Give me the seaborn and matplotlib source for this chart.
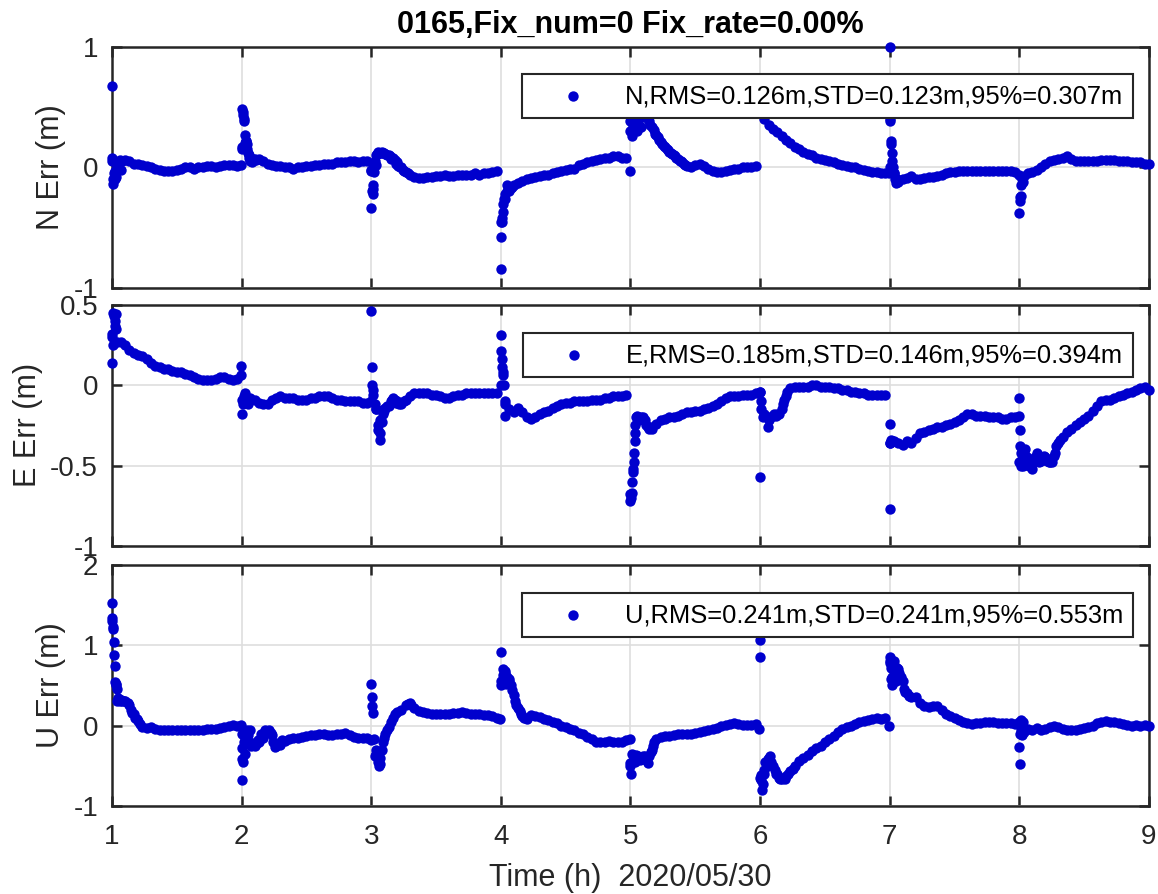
import numpy as np
import pandas as pd
import matplotlib
matplotlib.use("Agg")
import matplotlib.pyplot as plt
from matplotlib.ticker import FuncFormatter
import seaborn as sns

# ---- 30 epochs per hour (2-minute sampling), hours 1..9 ----
EPOCHS_PER_HOUR = 30
epoch_t = 1 + np.arange(8 * EPOCHS_PER_HOUR) / EPOCHS_PER_HOUR

# North error (m), two rows per hour
n_err = [
    0.05, -0.08, -0.02, 0.06, 0.05, 0.03, 0.03, 0.02, 0.01, 0.00, -0.01, -0.02, -0.03, -0.03, -0.03,
    -0.02, -0.01, 0.00, 0.00, -0.01, 0.00, 0.00, 0.01, 0.01, 0.00, 0.01, 0.02, 0.02, 0.02, 0.01,
    0.15, 0.22, 0.08, 0.07, 0.07, 0.05, 0.03, 0.02, 0.01, 0.01, 0.00, 0.00, -0.01, 0.00, 0.00,
    0.01, 0.01, 0.02, 0.02, 0.03, 0.03, 0.03, 0.04, 0.04, 0.04, 0.05, 0.05, 0.04, 0.05, 0.05,
    -0.02, 0.02, 0.12, 0.12, 0.10, 0.08, 0.04, 0.00, -0.04, -0.06, -0.08, -0.09, -0.09, -0.08, -0.08,
    -0.07, -0.07, -0.06, -0.07, -0.07, -0.06, -0.06, -0.06, -0.06, -0.05, -0.06, -0.05, -0.05, -0.04, -0.03,
    -0.45, -0.26, -0.20, -0.15, -0.13, -0.11, -0.10, -0.09, -0.08, -0.07, -0.06, -0.06, -0.05, -0.04, -0.03,
    -0.02, -0.01, -0.01, 0.02, 0.03, 0.04, 0.05, 0.06, 0.07, 0.08, 0.08, 0.09, 0.09, 0.08, 0.08,
    0.30, 0.36, 0.40, 0.44, 0.40, 0.33, 0.27, 0.21, 0.17, 0.13, 0.10, 0.07, 0.04, 0.01, 0.00,
    0.02, 0.03, 0.01, -0.01, -0.03, -0.04, -0.04, -0.03, -0.02, -0.01, -0.01, 0.00, 0.00, 0.00, 0.01,
    0.45, 0.40, 0.35, 0.32, 0.29, 0.26, 0.23, 0.20, 0.17, 0.15, 0.13, 0.11, 0.10, 0.08, 0.07,
    0.06, 0.05, 0.04, 0.03, 0.02, 0.01, 0.00, 0.00, -0.01, -0.02, -0.03, -0.04, -0.04, -0.05, -0.05,
    0.00, -0.05, -0.12, -0.10, -0.09, -0.07, -0.10, -0.10, -0.09, -0.08, -0.08, -0.07, -0.06, -0.05, -0.04,
    -0.04, -0.03, -0.03, -0.03, -0.03, -0.03, -0.03, -0.03, -0.03, -0.03, -0.03, -0.03, -0.03, -0.03, -0.04,
    -0.06, -0.07, -0.05, -0.04, -0.02, 0.00, 0.03, 0.05, 0.06, 0.07, 0.08, 0.09, 0.07, 0.05, 0.05,
    0.05, 0.05, 0.05, 0.05, 0.06, 0.06, 0.06, 0.06, 0.05, 0.05, 0.05, 0.04, 0.04, 0.04, 0.03,
]
# Extra epochs after each re-initialisation and along fast-changing stretches
n_jump_t = [
    1.000, 1.003, 1.007, 1.010, 1.015, 1.020, 1.025, 1.040, 1.050, 1.060, 1.080,
    1.995, 2.000, 2.003, 2.008, 2.012, 2.018, 2.022, 2.025, 2.030, 2.035, 2.040, 2.045, 2.050, 2.055, 2.060, 2.065, 2.080,
    2.090, 2.110,
    2.997, 3.000, 3.005, 3.010, 3.013, 3.017, 3.020, 3.025, 3.030, 3.040,
    3.045, 3.055, 3.075, 3.085, 3.110, 3.120, 3.145, 3.155, 3.180, 3.190, 3.210, 3.220, 3.245, 3.255, 3.280,
    4.000, 4.003, 4.006, 4.010, 4.015, 4.020, 4.025, 4.030, 4.045, 4.050, 4.060, 4.075, 4.085,
    4.998, 5.000, 5.005, 5.010, 5.020, 5.050, 5.080,
    5.140, 5.150, 5.180, 5.190, 5.210, 5.220, 5.245, 5.255, 5.280, 5.290, 5.310, 5.320, 5.345, 5.355,
    5.380, 5.390, 5.410, 5.420,
    6.998, 7.000, 7.003, 7.006, 7.010, 7.013, 7.017, 7.020, 7.025, 7.030, 7.040, 7.050, 7.060,
    8.000, 8.003, 8.006, 8.010, 8.015, 8.020, 8.030, 9.000,
]
n_jump_v = [
    0.67, 0.08, -0.14, -0.10, -0.05, -0.03, -0.10, 0.00, 0.04, 0.06, 0.05,
    0.02, 0.17, 0.48, 0.46, 0.43, 0.40, 0.38, 0.27, 0.20, 0.22, 0.19, 0.15, 0.12, 0.10, 0.08, 0.05, 0.04,
    0.07, 0.06,
    -0.03, -0.34, -0.20, -0.18, -0.22, -0.15, -0.04, 0.00, 0.05, 0.10,
    0.11, 0.13, 0.12, 0.13, 0.11, 0.10, 0.09, 0.07, 0.06, 0.03, 0.01, 0.00, -0.02, -0.03, -0.05,
    -0.84, -0.58, -0.45, -0.42, -0.37, -0.30, -0.26, -0.22, -0.15, -0.20, -0.18, -0.17, -0.16,
    -0.03, 0.38, 0.30, 0.26, 0.34, 0.30, 0.33,
    0.38, 0.35, 0.31, 0.28, 0.25, 0.23, 0.19, 0.18, 0.15, 0.14, 0.12, 0.11, 0.09, 0.08,
    0.05, 0.05, 0.03, 0.02,
    -0.05, 1.00, 0.40, 0.38, 0.22, 0.19, 0.12, 0.05, 0.00, -0.05, -0.10, -0.13, -0.10,
    -0.38, -0.28, -0.25, -0.24, -0.15, -0.10, -0.12, 0.03,
]

# East error (m)
e_err = [
    0.30, 0.35, 0.27, 0.25, 0.22, 0.20, 0.19, 0.18, 0.16, 0.14, 0.12, 0.11, 0.10, 0.10, 0.09,
    0.08, 0.08, 0.07, 0.06, 0.05, 0.04, 0.03, 0.03, 0.03, 0.04, 0.05, 0.05, 0.04, 0.03, 0.04,
    -0.09, -0.10, -0.08, -0.09, -0.11, -0.12, -0.12, -0.09, -0.08, -0.07, -0.08, -0.08, -0.08, -0.09, -0.09,
    -0.09, -0.08, -0.08, -0.07, -0.07, -0.07, -0.08, -0.09, -0.09, -0.10, -0.10, -0.10, -0.10, -0.11, -0.11,
    -0.10, -0.15, -0.22, -0.16, -0.13, -0.08, -0.10, -0.12, -0.09, -0.07, -0.05, -0.05, -0.05, -0.05, -0.06,
    -0.06, -0.07, -0.08, -0.08, -0.07, -0.06, -0.06, -0.05, -0.05, -0.05, -0.05, -0.05, -0.05, -0.05, -0.05,
    0.00, -0.12, -0.15, -0.17, -0.14, -0.17, -0.20, -0.21, -0.20, -0.18, -0.17, -0.16, -0.14, -0.13, -0.12,
    -0.11, -0.11, -0.10, -0.10, -0.10, -0.10, -0.09, -0.09, -0.09, -0.08, -0.08, -0.07, -0.07, -0.07, -0.06,
    -0.68, -0.35, -0.22, -0.20, -0.26, -0.27, -0.24, -0.22, -0.21, -0.20, -0.20, -0.19, -0.18, -0.17, -0.17,
    -0.16, -0.16, -0.15, -0.14, -0.13, -0.12, -0.10, -0.08, -0.07, -0.07, -0.07, -0.06, -0.06, -0.06, -0.05,
    -0.04, -0.18, -0.22, -0.19, -0.18, -0.15, -0.07, -0.02, -0.01, -0.01, -0.01, -0.01, 0.00, 0.00, -0.01,
    -0.01, -0.01, -0.02, -0.02, -0.03, -0.03, -0.04, -0.04, -0.05, -0.05, -0.06, -0.06, -0.06, -0.06, -0.06,
    -0.36, -0.35, -0.36, -0.37, -0.35, -0.36, -0.33, -0.30, -0.29, -0.28, -0.27, -0.26, -0.26, -0.25, -0.24,
    -0.23, -0.22, -0.20, -0.18, -0.18, -0.19, -0.19, -0.19, -0.20, -0.20, -0.20, -0.21, -0.21, -0.20, -0.20,
    -0.48, -0.42, -0.49, -0.52, -0.42, -0.47, -0.45, -0.48, -0.44, -0.36, -0.32, -0.29, -0.27, -0.25, -0.23,
    -0.21, -0.19, -0.16, -0.13, -0.10, -0.09, -0.09, -0.08, -0.07, -0.06, -0.05, -0.04, -0.03, -0.02, -0.01,
]
e_jump_t = [
    1.000, 1.003, 1.006, 1.010, 1.015, 1.020, 1.025, 1.030, 1.040, 1.995, 1.998,
    2.005, 2.010, 2.015, 2.030, 2.050,
    3.000, 3.003, 3.006, 3.010, 3.015, 3.030, 3.040, 3.050, 3.055, 3.065, 3.070, 3.080, 3.090,
    3.100, 3.110, 3.120, 3.150, 3.160, 3.180, 3.190, 3.215, 3.220, 3.250,
    4.000, 4.003, 4.006, 4.010, 4.015, 4.020, 4.025, 4.030, 4.035,
    5.000, 5.004, 5.008, 5.012, 5.016, 5.020, 5.024, 5.028, 5.032, 5.036, 5.045, 5.050,
    5.060, 5.075, 5.085, 5.110, 5.120, 5.145, 5.155,
    5.998, 6.000, 6.004, 6.010, 6.020, 6.040, 6.050, 6.060,
    6.070, 6.080, 6.110, 6.120, 6.145, 6.175, 6.185, 6.210,
    7.000, 7.003, 7.006, 7.010, 7.020,
    7.998, 8.000, 8.004, 8.008, 8.012, 8.016, 8.020, 8.030, 8.040, 8.050,
    8.060, 8.075, 8.085, 8.110, 8.120, 8.145, 8.155, 8.180, 8.190, 8.215, 8.225, 8.245, 8.255,
    8.275, 8.285, 8.310, 9.000,
]
e_jump_v = [
    0.32, 0.14, 0.25, 0.45, 0.43, 0.40, 0.37, 0.44, 0.27, 0.12, 0.06,
    -0.18, -0.12, -0.07, -0.05, -0.12,
    0.46, 0.11, 0.00, -0.03, -0.06, -0.12, -0.15, -0.25, -0.28, -0.34, -0.30, -0.23, -0.18,
    -0.15, -0.14, -0.13, -0.10, -0.09, -0.09, -0.11, -0.12, -0.11, -0.10,
    0.31, 0.21, 0.16, 0.11, 0.08, 0.06, 0.00, -0.10, -0.19,
    -0.72, -0.70, -0.67, -0.60, -0.54, -0.52, -0.48, -0.42, -0.30, -0.25, -0.20, -0.19,
    -0.20, -0.21, -0.20, -0.22, -0.25, -0.27, -0.26,
    -0.04, -0.57, -0.10, -0.15, -0.20, -0.19, -0.20, -0.26,
    -0.21, -0.20, -0.18, -0.19, -0.18, -0.12, -0.09, -0.04,
    -0.77, -0.24, -0.36, -0.34, -0.35,
    -0.19, -0.08, -0.28, -0.38, -0.42, -0.50, -0.46, -0.50, -0.40, -0.45,
    -0.45, -0.50, -0.47, -0.48, -0.45, -0.44, -0.48, -0.46, -0.44, -0.47, -0.48, -0.46, -0.48,
    -0.42, -0.38, -0.34, -0.03,
]

# Up error (m)
u_err = [
    1.30, 0.52, 0.32, 0.30, 0.26, 0.14, 0.06, -0.02, -0.03, -0.02, -0.04, -0.05, -0.06, -0.05, -0.05,
    -0.05, -0.06, -0.06, -0.06, -0.05, -0.05, -0.05, -0.04, -0.04, -0.04, -0.03, -0.02, 0.00, 0.01, 0.00,
    -0.10, -0.12, -0.05, -0.25, -0.20, -0.15, -0.07, -0.12, -0.25, -0.24, -0.19, -0.17, -0.15, -0.15, -0.14,
    -0.13, -0.12, -0.12, -0.11, -0.11, -0.12, -0.12, -0.11, -0.11, -0.09, -0.12, -0.14, -0.15, -0.15, -0.16,
    -0.18, -0.30, -0.48, -0.15, -0.02, 0.10, 0.17, 0.20, 0.26, 0.28, 0.22, 0.18, 0.17, 0.16, 0.15,
    0.14, 0.15, 0.15, 0.15, 0.16, 0.16, 0.17, 0.16, 0.15, 0.14, 0.14, 0.13, 0.13, 0.12, 0.10,
    0.55, 0.65, 0.55, 0.38, 0.22, 0.12, 0.08, 0.13, 0.12, 0.11, 0.08, 0.07, 0.05, 0.03, 0.00,
    -0.02, -0.04, -0.06, -0.09, -0.11, -0.14, -0.17, -0.20, -0.20, -0.20, -0.19, -0.20, -0.20, -0.20, -0.18,
    -0.47, -0.38, -0.42, -0.38, -0.46, -0.30, -0.17, -0.14, -0.13, -0.13, -0.12, -0.11, -0.11, -0.10, -0.10,
    -0.09, -0.08, -0.07, -0.06, -0.04, -0.03, -0.01, 0.01, 0.02, 0.03, 0.02, 0.01, 0.01, 0.01, 0.02,
    -0.65, -0.60, -0.40, -0.50, -0.60, -0.67, -0.63, -0.57, -0.50, -0.44, -0.40, -0.36, -0.32, -0.28, -0.25,
    -0.21, -0.17, -0.13, -0.08, -0.04, -0.02, -0.01, 0.02, 0.05, 0.06, 0.07, 0.08, 0.09, 0.08, 0.10,
    0.80, 0.80, 0.70, 0.55, 0.40, 0.35, 0.35, 0.28, 0.24, 0.23, 0.24, 0.24, 0.20, 0.15, 0.12,
    0.09, 0.07, 0.05, 0.03, 0.02, 0.03, 0.03, 0.04, 0.04, 0.04, 0.03, 0.03, 0.03, 0.03, 0.02,
    0.02, -0.08, -0.04, -0.05, -0.03, -0.05, -0.04, -0.02, -0.01, -0.02, -0.04, -0.05, -0.05, -0.05, -0.04,
    -0.03, -0.02, 0.00, 0.03, 0.05, 0.06, 0.05, 0.04, 0.03, 0.02, 0.01, 0.00, 0.01, 0.00, 0.01,
]
u_jump_t = [
    1.000, 1.002, 1.005, 1.010, 1.013, 1.017, 1.020, 1.025, 1.030, 1.035, 1.040, 1.045, 1.050, 1.060,
    1.070, 1.080, 1.090, 1.120, 1.145, 1.155, 1.180, 1.190, 1.215,
    1.997, 2.000, 2.003, 2.006, 2.010, 2.015, 2.020, 2.025, 2.030, 2.040,
    2.050, 2.060, 2.075, 2.085, 2.115, 2.125, 2.150, 2.180, 2.190, 2.215, 2.225, 2.245, 2.255, 2.280, 2.315,
    3.000, 3.003, 3.006, 3.010, 3.020, 3.030, 3.040, 3.050, 3.060, 3.070, 3.995,
    3.080, 3.090, 3.110, 3.120, 3.150, 3.180, 3.280, 3.310,
    4.000, 4.003, 4.008, 4.015, 4.020, 4.025, 4.030, 4.040,
    4.050, 4.060, 4.075, 4.085, 4.110, 4.120, 4.145, 4.155, 4.180,
    4.998, 5.000, 5.004, 5.008, 5.015, 5.025, 5.035, 5.995,
    5.045, 5.055, 5.075, 5.085, 5.110, 5.120, 5.145, 5.155, 5.175, 5.185,
    6.000, 6.003, 6.006, 6.010, 6.015, 6.020, 6.030, 6.040, 6.995,
    6.050, 6.060, 6.075, 6.085, 6.115, 6.125, 6.145, 6.155, 6.180, 6.190, 6.215, 6.250,
    7.000, 7.004, 7.008, 7.012, 7.016, 7.020, 7.030, 7.040, 7.050,
    7.060, 7.075, 7.085, 7.110, 7.120, 7.145,
    7.998, 8.000, 8.003, 8.006, 8.010, 8.015, 8.020, 8.030, 9.000,
]
u_jump_v = [
    1.52, 1.34, 1.22, 1.20, 1.04, 0.88, 0.74, 0.54, 0.50, 0.45, 0.30, 0.34, 0.33, 0.30,
    0.32, 0.30, 0.30, 0.28, 0.20, 0.16, 0.10, 0.08, 0.02,
    0.01, -0.42, -0.68, -0.28, -0.45, -0.12, -0.20, -0.35, -0.15, -0.05,
    -0.12, -0.20, -0.25, -0.22, -0.22, -0.18, -0.10, -0.05, -0.08, -0.06, -0.09, -0.20, -0.27, -0.22, -0.18,
    0.52, 0.35, 0.24, 0.16, -0.17, -0.38, -0.35, -0.45, -0.50, -0.40, 0.08,
    -0.30, -0.20, -0.10, -0.05, 0.05, 0.14, 0.27, 0.25,
    0.92, 0.50, 0.55, 0.63, 0.70, 0.60, 0.68, 0.52,
    0.60, 0.58, 0.50, 0.44, 0.30, 0.26, 0.18, 0.15, 0.10,
    -0.17, -0.50, -0.60, -0.45, -0.35, -0.40, -0.45, -0.04,
    -0.36, -0.38, -0.43, -0.40, -0.38, -0.43, -0.38, -0.33, -0.25, -0.20,
    1.07, 0.85, -0.62, -0.68, -0.80, -0.72, -0.55, -0.45, 0.00,
    -0.50, -0.42, -0.38, -0.45, -0.55, -0.60, -0.65, -0.66, -0.65, -0.66, -0.60, -0.54,
    0.85, 0.78, 0.72, 0.58, 0.50, 0.60, 0.75, 0.68, 0.55,
    0.72, 0.65, 0.60, 0.45, 0.42, 0.37,
    0.04, -0.27, -0.48, -0.10, 0.07, -0.05, -0.12, 0.05, 0.00,
]

panel_ylabels = ["N Err (m)", "E Err (m)", "U Err (m)"]
panel_legends = [
    "N,RMS=0.126m,STD=0.123m,95%=0.307m",
    "E,RMS=0.185m,STD=0.146m,95%=0.394m",
    "U,RMS=0.241m,STD=0.241m,95%=0.553m",
]
panel_ylims = [(-1, 1), (-1, 0.5), (-1, 2)]
panel_yticks = [[-1, 0, 1], [-1, -0.5, 0, 0.5], [-1, 0, 1, 2]]
hour_ticks = [1, 2, 3, 4, 5, 6, 7, 8, 9]
title_text = "0165,Fix_num=0 Fix_rate=0.00%"
xlabel_text = "Time (h)  2020/05/30"

DOT = "#0000CD"
INK = "#262626"

sns.set_theme(style="whitegrid")
plt.rcParams.update({
    "axes.unicode_minus": False,
    "axes.edgecolor": INK,
    "axes.linewidth": 1.8,
    "grid.color": "#dedede",
    "grid.linewidth": 1.2,
    "xtick.color": INK,
    "ytick.color": INK,
    "xtick.labelcolor": INK,
    "ytick.labelcolor": INK,
})
plt.rcParams["font.family"] = ["Liberation Sans", "DejaVu Sans"]


def panel_frame(reg, jt, jv):
    df = pd.DataFrame({"t": np.concatenate([epoch_t, jt]),
                       "err": np.concatenate([reg, jv])})
    return df.sort_values("t").reset_index(drop=True)


frames = [
    panel_frame(n_err, n_jump_t, n_jump_v),
    panel_frame(e_err, e_jump_t, e_jump_v),
    panel_frame(u_err, u_jump_t, u_jump_v),
]

fig = plt.figure(figsize=(11.58, 8.94), dpi=100)
left, width, height = 0.0967, 0.8955, 0.2699
bottoms = [0.6779, 0.3893, 0.0984]
legend_tops = [0.887, 0.883, 0.883]

for i, df in enumerate(frames):
    ax = fig.add_axes([left, bottoms[i], width, height])
    sns.scatterplot(data=df, x="t", y="err", ax=ax, color=DOT, s=56,
                    linewidth=0, label=panel_legends[i], zorder=3, clip_on=False)
    ax.set_xlim(1, 9)
    ax.set_ylim(*panel_ylims[i])
    ax.set_xticks(hour_ticks)
    ax.set_yticks(panel_yticks[i])
    ax.yaxis.set_major_formatter(FuncFormatter(lambda v, p: f"{v:g}"))
    ax.grid(True, color="#dedede", linewidth=1.2)
    ax.set_axisbelow(True)
    for sp in ax.spines.values():
        sp.set_visible(True)
        sp.set_color(INK)
        sp.set_linewidth(1.8)
    ax.tick_params(axis="both", which="major", direction="in", length=7, width=1.8,
                   top=True, right=True, bottom=True, left=True, labelsize=20)
    ax.tick_params(axis="x", pad=13)
    ax.tick_params(axis="y", pad=10)
    ax.set_ylabel(panel_ylabels[i], fontsize=22, color=INK, labelpad=5)
    if i < 2:
        ax.tick_params(labelbottom=False)
        ax.set_xlabel("")
    else:
        ax.set_xlabel(xlabel_text, fontsize=22, color=INK, labelpad=9)
    if i == 0:
        ax.set_title(title_text, fontsize=22, fontweight="bold", color="black", pad=10)
    leg = ax.legend(loc="upper right", bbox_to_anchor=(0.9846, legend_tops[i]),
                    borderaxespad=0, fontsize=18.4, frameon=True, fancybox=False,
                    framealpha=1, handlelength=3.2, handletextpad=0.41,
                    borderpad=0.4, markerscale=1)
    leg.get_frame().set_edgecolor(INK)
    leg.get_frame().set_linewidth(1.5)
    leg.set_zorder(5)
    for txt in leg.get_texts():
        txt.set_color("black")

fig.savefig("out.png", dpi=100)
